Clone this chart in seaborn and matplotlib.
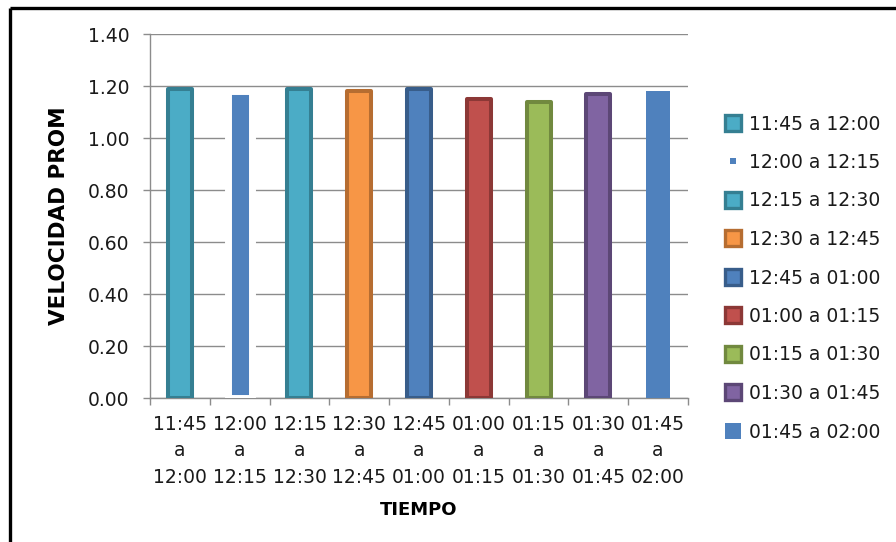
import matplotlib
matplotlib.use("Agg")
import matplotlib.pyplot as plt
from matplotlib.lines import Line2D
import seaborn as sns
import pandas as pd

# ---- data ----
categories = ["11:45 a 12:00", "12:00 a 12:15", "12:15 a 12:30", "12:30 a 12:45",
              "12:45 a 01:00", "01:00 a 01:15", "01:15 a 01:30", "01:30 a 01:45",
              "01:45 a 02:00"]
tick_labels = ["11:45\na\n12:00", "12:00\na\n12:15", "12:15\na\n12:30", "12:30\na\n12:45",
               "12:45\na\n01:00", "01:00\na\n01:15", "01:15\na\n01:30", "01:30\na\n01:45",
               "01:45\na\n02:00"]
values = [1.19, 1.18, 1.19, 1.18, 1.19, 1.15, 1.14, 1.17, 1.18]
y_ticks = [0.0, 0.2, 0.4, 0.6, 0.8, 1.0, 1.2, 1.4]

# ---- styles ----
fill_colors = ["#4BACC6", "#4F81BD", "#4BACC6", "#F79646", "#4F81BD",
               "#C0504D", "#9BBB59", "#8064A2", "#4F81BD"]
edge_colors = ["#357F92", "#FFFFFF", "#357F92", "#B66D31", "#385D8A",
               "#8C3836", "#71893F", "#5C4776", "none"]
edge_widths = [2.9, 5.0, 2.9, 2.9, 2.9, 2.9, 2.9, 2.9, 0.0]

sns.set_theme(style="white")
plt.rcParams["font.family"] = ["DejaVu Sans"]

df = pd.DataFrame({"cat": categories, "val": values})

fig = plt.figure(figsize=(8.96, 5.42), dpi=100)
ax = fig.add_axes([150/896, 1-398/542, (688-150)/896, (398-34)/542])

sns.barplot(data=df, x="cat", y="val", hue="cat", order=categories, hue_order=categories,
            palette=dict(zip(categories, fill_colors)), width=0.4, legend=False,
            saturation=1, ax=ax, zorder=3)

patches = sorted([p for p in ax.patches if p.get_height() > 0], key=lambda p: p.get_x())
for p, ec, lw in zip(patches, edge_colors, edge_widths):
    p.set_edgecolor(ec)
    p.set_linewidth(lw)
    p.set_joinstyle("round")

ax.set_xlim(-0.5, len(categories) - 0.5)
ax.set_ylim(0, 1.4)
ax.set_yticks(y_ticks)
ax.set_yticklabels([f"{v:.2f}" for v in y_ticks])
ax.set_xticks(range(len(categories)))
ax.set_xticklabels(tick_labels, linespacing=1.5)
ax.set_xticks([i - 0.5 for i in range(len(categories) + 1)], minor=True)

grid_c = "#8C8C8C"
ax.yaxis.grid(True, color=grid_c, linewidth=1.0, zorder=0)
ax.set_axisbelow(True)
for s in ["top", "right"]:
    ax.spines[s].set_visible(False)
for s in ["left", "bottom"]:
    ax.spines[s].set_color(grid_c)
    ax.spines[s].set_linewidth(1.0)

ax.tick_params(axis="y", which="major", left=True, length=5, width=1, color=grid_c,
               pad=10, labelsize=13.5, labelcolor="#1a1a1a")
ax.tick_params(axis="x", which="major", bottom=False, length=0, pad=12,
               labelsize=13.5, labelcolor="#1a1a1a")
ax.tick_params(axis="x", which="minor", bottom=True, length=5, width=1, color=grid_c)

ax.set_ylabel("VELOCIDAD PROM", fontsize=15.5, fontweight="bold", labelpad=13, color="#000000")
ax.set_xlabel("TIEMPO", fontsize=13, fontweight="bold", labelpad=10, color="#000000")

# legend
handles = []
for i, (fc, ec) in enumerate(zip(fill_colors, edge_colors)):
    if i == 1:
        h = Line2D([], [], linestyle="none", marker="s", markersize=5,
                   markerfacecolor=fc, markeredgecolor=fc, markeredgewidth=0)
    elif i == 8:
        h = Line2D([], [], linestyle="none", marker="s", markersize=12,
                   markerfacecolor=fc, markeredgecolor=fc, markeredgewidth=0)
    else:
        h = Line2D([], [], linestyle="none", marker="s", markersize=11,
                   markerfacecolor=fc, markeredgecolor=ec, markeredgewidth=2.4)
    handles.append(h)

fig.legend(handles, categories, loc="center left", bbox_to_anchor=(716/896, 1-278/542),
           frameon=False, fontsize=13.5, labelspacing=1.04, handlelength=1.0,
           handletextpad=0.35, borderaxespad=0, labelcolor="#1a1a1a")

# figure border (top and left)
fig.add_artist(Line2D([10/896, 1.0], [1-8/542, 1-8/542], transform=fig.transFigure,
                      color="black", linewidth=2.4, solid_capstyle="butt"))
fig.add_artist(Line2D([10/896, 10/896], [0.0, 1-8/542], transform=fig.transFigure,
                      color="black", linewidth=2.4, solid_capstyle="butt"))

fig.savefig("out.png", dpi=100)
